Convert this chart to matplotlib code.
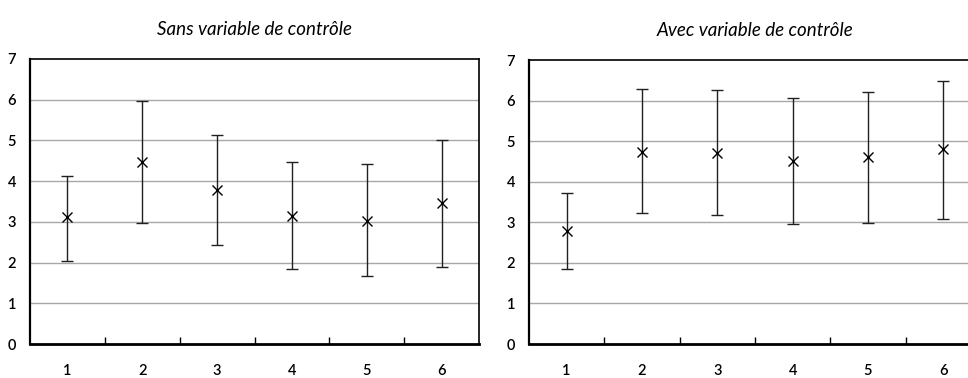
import numpy as np
import matplotlib.pyplot as plt

plt.rcParams['font.family'] = ['Lato', 'DejaVu Sans']

categories = ['1', '2', '3', '4', '5', '6']

# without control variable: mean, upper bound, lower bound
sans_mean = [3.11, 4.47, 3.79, 3.15, 3.03, 3.46]
sans_high = [4.13, 5.97, 5.13, 4.47, 4.42, 5.02]
sans_low = [2.05, 2.98, 2.44, 1.83, 1.66, 1.88]

# with control variable
avec_mean = [2.79, 4.74, 4.72, 4.52, 4.61, 4.80]
avec_high = [3.72, 6.28, 6.26, 6.06, 6.21, 6.49]
avec_low = [1.86, 3.22, 3.19, 2.97, 2.99, 3.09]

titles = ['Sans variable de contrôle', 'Avec variable de contrôle']

fig = plt.figure(figsize=(9.68, 3.78), dpi=100)
ax1 = fig.add_axes([30 / 968, 34 / 378, 449 / 968, 285 / 378])
ax2 = fig.add_axes([529 / 968, 34 / 378, 452 / 968, 284 / 378])

panels = [(ax1, sans_mean, sans_high, sans_low),
          (ax2, avec_mean, avec_high, avec_low)]

for i, (ax, mean, high, low) in enumerate(panels):
    mean = np.array(mean)
    x = np.arange(len(categories)) + 0.5
    yerr = [mean - np.array(low), np.array(high) - mean]
    ax.errorbar(x, mean, yerr=yerr, fmt='x', color='black', ecolor='#202020',
                markersize=7, markeredgewidth=1.0, elinewidth=1.0,
                capsize=4.5, capthick=2, zorder=3)

    ax.set_xlim(0, len(categories))
    ax.set_ylim(0, 7)
    ax.set_yticks(range(8))
    ax.set_yticklabels([str(v) for v in range(8)], fontsize=10.5, fontweight='semibold')
    ax.tick_params(axis='y', length=0, pad=10)

    # category boundaries as inside ticks, labels centered under categories
    ax.set_xticks(range(1, len(categories)))
    ax.set_xticklabels([])
    ax.tick_params(axis='x', which='major', direction='in', length=5, width=1, color='black')
    ax.set_xticks(x, minor=True)
    ax.set_xticklabels(categories, minor=True, fontsize=10.5, fontweight='semibold')
    ax.tick_params(axis='x', which='minor', length=0, pad=14.5)

    for yv in range(1, 7):
        ax.axhline(yv, color='#a8a8a8', linewidth=1.0, zorder=1)

    for side in ['top', 'right']:
        ax.spines[side].set_linewidth(1.2)
    ax.spines['left'].set_linewidth(1.6)
    ax.spines['bottom'].set_linewidth(2.0)

    ax.set_title(titles[i], fontsize=13.5, style='italic', pad=17)

fig.savefig('out.png', dpi=100)
